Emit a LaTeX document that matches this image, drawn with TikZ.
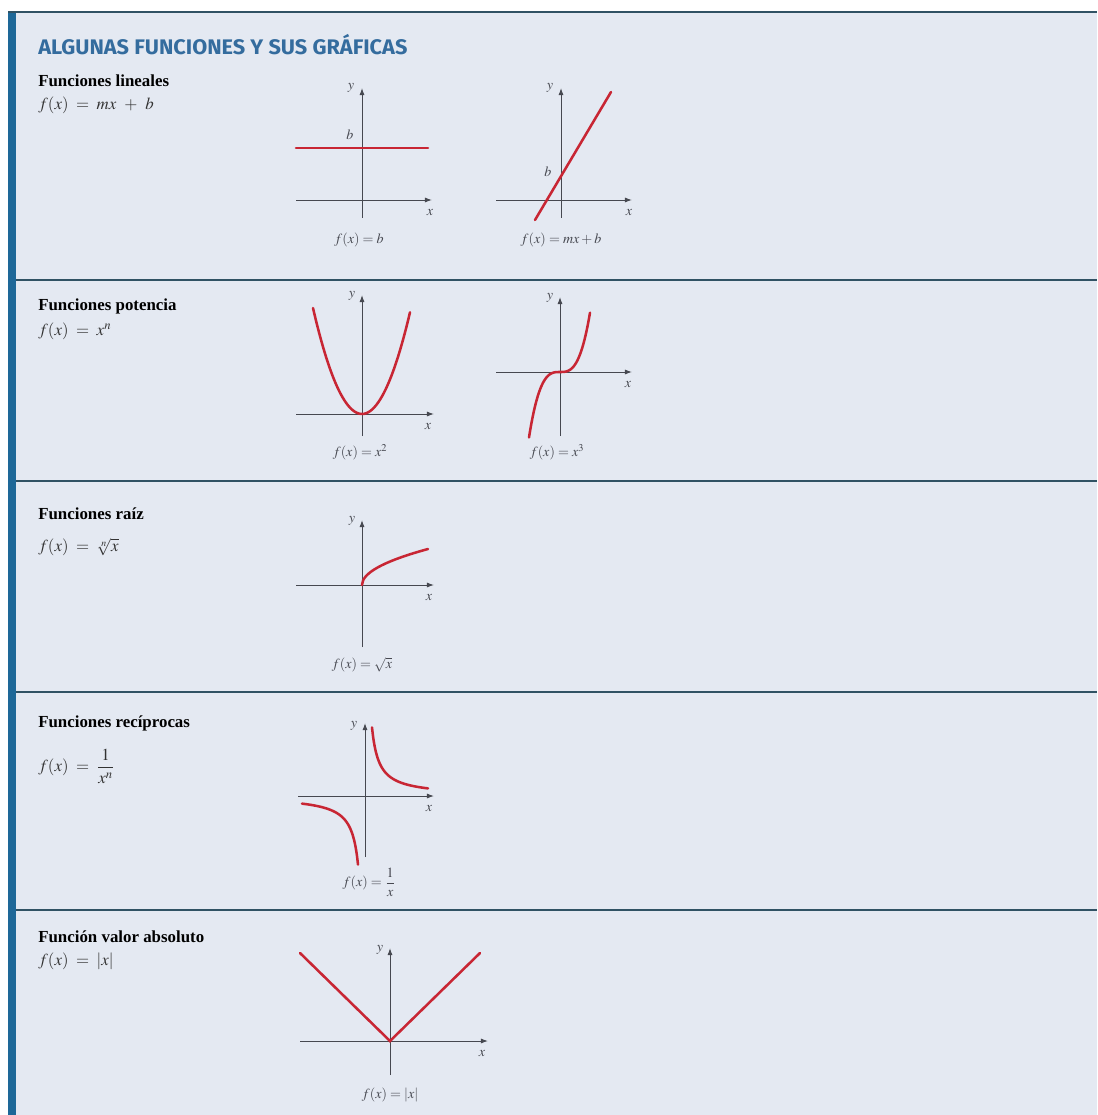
\documentclass[tikz,border=0pt]{standalone}
\usepackage{mathptmx}
\usepackage{fontspec}
\setmainfont{Liberation Serif}
\newfontfamily\titlefont{Fira Sans}
\usetikzlibrary{arrows.meta}
\definecolor{Panel}{RGB}{228,233,242}
\definecolor{Rule}{RGB}{48,82,100}
\definecolor{Bar}{RGB}{30,104,152}
\definecolor{TitleBlue}{RGB}{52,108,158}
\definecolor{AxisGray}{RGB}{70,72,80}
\definecolor{CurveRed}{RGB}{200,38,52}

\begin{document}
\begin{tikzpicture}[
    x=0.025cm, y=-0.025cm,
    >={Latex[length=5pt,width=3.6pt]},
    axis/.style={draw=AxisGray, line width=0.7pt, ->},
    curve/.style={draw=CurveRed, line width=1.8pt, line cap=round},
    heading/.style={anchor=west, inner sep=0pt, font=\bfseries\fontsize{12}{13}\selectfont},
    formula/.style={anchor=west, inner sep=0pt, text=black!80, font=\fontsize{12}{13}\selectfont},
    axlabel/.style={inner sep=0pt, text=AxisGray, font=\fontsize{10}{11}\selectfont},
    caption/.style={inner sep=0pt, text=AxisGray, font=\fontsize{10}{11}\selectfont}
]
  \useasboundingbox (0,0) rectangle (1097,1115);

  % panel
  \fill[Panel] (8,12) rectangle (1097,1115);
  \fill[Bar] (8,12) rectangle (16,1115);
  \draw[Rule, line width=1.6pt] (8,12) -- (1097,12);
  \foreach \yy in {280,481,692,910} {
    \draw[Rule, line width=1.8pt] (16,\yy) -- (1097,\yy);
  }

  \node[anchor=west, inner sep=0pt, text=TitleBlue] (title) at (38,45)
    {\scalebox{1.03}[1]{\titlefont\bfseries\fontsize{15}{16}\selectfont ALGUNAS FUNCIONES Y SUS GRÁFICAS}};

  % lineales
  \node[heading] (linH) at (38,81) {Funciones lineales};
  \node[formula] (linF) at (38,105) {$f(x) \;=\; mx \;\,+\;\, b$};

  \begin{scope}[shift={(362,200)}]
    \draw[axis] (-66,0) -- (70,0);
    \draw[axis] (0,18) -- (0,-112);
    \draw[curve] (-66,-52) -- (66,-52);
    \node[axlabel] (ly1) at (-11,-112) {$y$};
    \node[axlabel] (lx1) at (68,13) {$x$};
    \node[axlabel] (lb1) at (-12,-65) {$b$};
    \node[caption] (c1) at (-3,40) {$f(x) = b$};
  \end{scope}

  \begin{scope}[shift={(561,200)}]
    \draw[axis] (-65,0) -- (71,0);
    \draw[axis] (0,18) -- (0,-112);
    \draw[curve] (-26,20) -- (50,-108);
    \node[axlabel] (ly2) at (-11,-112) {$y$};
    \node[axlabel] (lx2) at (68,13) {$x$};
    \node[axlabel] (lb2) at (-13,-28) {$b$};
    \node[caption] (c2) at (0,40) {$f(x) = mx + b$};
  \end{scope}

  % potencia
  \node[heading] (powH) at (38,306) {Funciones potencia};
  \node[formula] (powF) at (38,331) {$f(x) \;=\; x^n$};

  \begin{scope}[shift={(362,414)}]
    \draw[axis] (-66,0) -- (72,0);
    \draw[axis] (0,22) -- (0,-119);
    \draw[curve] plot[domain=-49:48, samples=50, smooth] (\x, {-0.04415*\x*\x});
    \node[axlabel] (ly3) at (-10,-118) {$y$};
    \node[axlabel] (lx3) at (66,13) {$x$};
    \node[caption] (c3) at (-2,38) {$f(x) = x^2$};
  \end{scope}

  \begin{scope}[shift={(560,372)}]
    \draw[axis] (-64,0) -- (72,0);
    \draw[axis] (0,64) -- (0,-75);
    \draw[curve] plot[domain=-31:30, samples=50, smooth] (\x, {-((0.0022*\x)*\x)*\x});
    \node[axlabel] (ly4) at (-10,-74) {$y$};
    \node[axlabel] (lx4) at (68,13) {$x$};
    \node[caption] (c4) at (-3,80) {$f(x) = x^3$};
  \end{scope}

  % raiz
  \node[heading] (rootH) at (38,514) {Funciones raíz};
  \node[formula] (rootF) at (38,547) {$f(x) \;=\; \sqrt[n]{x}$};

  \begin{scope}[shift={(362,585)}]
    \draw[axis] (-66,0) -- (72,0);
    \draw[axis] (0,62) -- (0,-65);
    \draw[curve] plot[domain=0:66, samples=60, smooth] (\x, {-4.43*sqrt(\x)});
    \node[axlabel] (ly5) at (-10,-64) {$y$};
    \node[axlabel] (lx5) at (67,13) {$x$};
    \node[caption] (c5) at (0,80) {$f(x) = \sqrt{x}$};
  \end{scope}

  % reciprocas
  \node[heading] (recH) at (38,723) {Funciones recíprocas};
  \node[formula] (recF) at (38,766) {$f(x) \;=\; \displaystyle\frac{1}{x^n}$};

  \begin{scope}[shift={(365,796)}]
    \draw[axis] (-67,0) -- (69,0);
    \draw[axis] (0,61) -- (0,-73);
    \draw[curve] plot[domain=7:63, samples=60, smooth] (\x, {-480/\x});
    \draw[curve] plot[domain=-63:-7, samples=60, smooth] (\x, {-480/\x});
    \node[axlabel] (ly6) at (-11,-70) {$y$};
    \node[axlabel] (lx6) at (64,13) {$x$};
    \node[caption] (c6) at (4,86) {$f(x) = \displaystyle\frac{1}{x}$};
  \end{scope}

  % valor absoluto
  \node[heading] (absH) at (38,937) {Función valor absoluto};
  \node[formula] (absF) at (38,961) {$f(x) \;=\; |x|$};

  \begin{scope}[shift={(390,1041)}]
    \draw[axis] (-90,0) -- (98,0);
    \draw[axis] (0,34) -- (0,-93);
    \draw[curve] (-90,-88) -- (0,0) -- (90,-88);
    \node[axlabel] (ly7) at (-10,-91) {$y$};
    \node[axlabel] (lx7) at (92,13) {$x$};
    \node[caption] (c7) at (0,54) {$f(x) = |x|$};
  \end{scope}
\end{tikzpicture}
\end{document}
